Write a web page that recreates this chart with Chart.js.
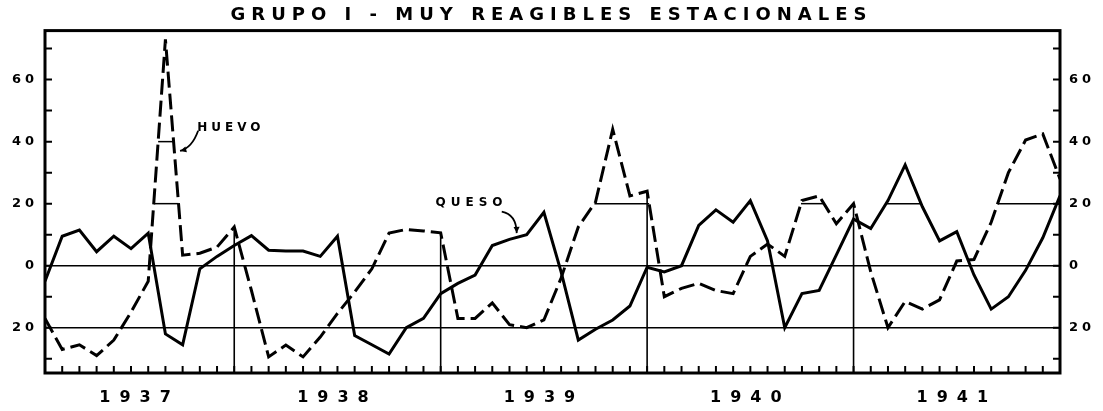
<!DOCTYPE html>
<html><head><meta charset="utf-8">
<script src="https://cdn.jsdelivr.net/npm/chart.js@4.4.1/dist/chart.umd.min.js"></script>
<style>html,body{margin:0;padding:0;background:#fff;}#wrap{width:1103px;height:411px;position:relative;}</style>
</head><body><div id="wrap"><canvas id="c"></canvas></div>
<script>
// ---- data ----
const years = ['1937','1938','1939','1940','1941'];
const monthNames = ['Ene','Feb','Mar','Abr','May','Jun','Jul','Ago','Sep','Oct','Nov','Dic'];
const months = years.flatMap(y => monthNames.map(m => m + ' ' + y));
const queso = [
  -5, 9.5, 11.5, 4.5, 9.5, 5.5, 10.5, -22, -25.5, -1, 3, 6.5,
  9.7, 5, 4.7, 4.7, 3, 9.5, -22.5, -25.5, -28.5, -20, -17, -9,
  -5.7, -3, 6.5, 8.5, 10, 17.2, -2, -24, -20.5, -17.5, -13, -0.5,
  -2, 0, 13, 18, 14, 21, 8, -20, -9, -8, 3.5, 15,
  12, 21, 32.5, 19, 8, 11, -3, -14, -10, -1.5, 9, 22.5
];
const huevo = [
  -17, -27, -25.5, -29, -24, -15, -5, 73, 3.4, 4, 6, 12.5,
  -8, -29.4, -25.6, -29.4, -23, -15.4, -8.5, -1, 10.5, 11.7, 11.2, 10.6,
  -17, -17, -12, -19, -20, -17.5, -4, 12.5, 20.5, 44, 22.5, 24,
  -10, -7.3, -5.7, -8, -9, 3, 7, 3, 21, 22.5, 13.5, 20,
  -2, -20, -11.5, -14, -11, 1.5, 2, 14, 30, 40.5, 42.5, 28
];
const yTickValues = [-20, 0, 20, 40, 60];
const yMinorTicks = [-30, -20, -10, 0, 10, 20, 30, 40, 50, 60, 70];
// grid fragments at a level are drawn inside humps whose peak reaches at least the given value
const fragLevels = [{level: 20, minPeak: 20}, {level: 40, minPeak: 60}];
const yearEnds = years.slice(0, -1).map((_, k) => 12 * k + 11);
const yearCenters = years.map((_, k) => (Math.max(0, 12 * k - 1) + 12 * k + 11) / 2);

const FONT = '"DejaVu Sans", sans-serif';

class SpacedLinear extends Chart.LinearScale {
  static id = 'spacedLinear';
  drawLabels(area) {
    const ctx = this.ctx;
    ctx.save();
    ctx.letterSpacing = (this.options.letterSpacing || 0) + 'px';
    super.drawLabels(area);
    ctx.restore();
  }
}
Chart.register(SpacedLinear);

function arrowHead(ctx, x0, y0, x1, y1, size) {
  const ang = Math.atan2(y1 - y0, x1 - x0);
  ctx.beginPath();
  ctx.moveTo(x1, y1);
  ctx.lineTo(x1 - size * Math.cos(ang - 0.45), y1 - size * Math.sin(ang - 0.45));
  ctx.lineTo(x1 - size * Math.cos(ang + 0.45), y1 - size * Math.sin(ang + 0.45));
  ctx.closePath();
  ctx.fill();
}

const decor = {
  id: 'decor',
  beforeDraw(chart) { chart.ctx.letterSpacing = '6px'; },
  beforeDatasetsDraw(chart) {
    const {ctx, chartArea: a, scales: {x, y}} = chart;
    ctx.save();
    ctx.letterSpacing = '0px';
    ctx.strokeStyle = '#000';
    ctx.lineWidth = 1.6;
    yearEnds.forEach(i => {
      const px = x.getPixelForValue(i);
      ctx.beginPath(); ctx.moveTo(px, a.bottom); ctx.lineTo(px, y.getPixelForValue(huevo[i])); ctx.stroke();
    });
    ctx.lineWidth = 1.5;
    [queso, huevo].forEach(series => fragLevels.forEach(({level, minPeak}) => {
      // find humps above level
      let i = 0;
      const n = series.length;
      while (i < n - 1) {
        if (series[i] <= level && series[i + 1] <= level) { i++; continue; }
        // hump start
        let start = i;
        let s0 = series[i] < level ? i + (level - series[i]) / (series[i + 1] - series[i]) : i;
        let j = i + 1, peak = Math.max(series[i], series[i + 1]);
        while (j < n - 1 && series[j] > level) { peak = Math.max(peak, series[j + 1]); j++; }
        let s1;
        if (series[j] < level) s1 = (j - 1) + (level - series[j - 1]) / (series[j] - series[j - 1]);
        else s1 = j;
        if (peak >= minPeak) {
          const py = y.getPixelForValue(level);
          ctx.beginPath(); ctx.moveTo(x.getPixelForValue(s0), py); ctx.lineTo(x.getPixelForValue(s1), py); ctx.stroke();
        }
        i = Math.max(j, start + 1);
      }
    }));
    ctx.restore();
  },
  afterDatasetsDraw(chart) {
    const {ctx, chartArea: a, scales: {x, y}} = chart;
    const P = (i, v) => [x.getPixelForValue(i), y.getPixelForValue(v)];
    ctx.save();
    ctx.letterSpacing = '0px';
    ctx.strokeStyle = '#000'; ctx.fillStyle = '#000';
    // frame
    ctx.lineWidth = 3;
    ctx.strokeRect(a.left, a.top, a.right - a.left, a.bottom - a.top);
    // inward ticks
    ctx.lineWidth = 2;
    yMinorTicks.forEach(v => {
      const py = y.getPixelForValue(v);
      ctx.beginPath();
      ctx.moveTo(a.left, py); ctx.lineTo(a.left + 7, py);
      ctx.moveTo(a.right, py); ctx.lineTo(a.right - 7, py);
      ctx.stroke();
    });
    months.forEach((m, i) => {
      if (i === 0 || i === months.length - 1) return;
      const px = x.getPixelForValue(i);
      ctx.beginPath(); ctx.moveTo(px, a.bottom); ctx.lineTo(px, a.bottom - 7); ctx.stroke();
    });
    // annotations
    ctx.textBaseline = 'middle'; ctx.textAlign = 'left';
    ctx.font = 'bold 12px ' + FONT; ctx.letterSpacing = '4px';
    let p = P(8.85, 44.3);
    ctx.fillText('HUEVO', p[0], p[1]);
    ctx.font = 'bold 12px ' + FONT; ctx.letterSpacing = '5px';
    p = P(22.7, 20.3);
    ctx.fillText('QUESO', p[0], p[1]);
    ctx.letterSpacing = '0px';
    ctx.lineWidth = 1.8;
    // HUEVO arrow
    let s = P(8.9, 43.5), c = P(8.55, 38), e = P(7.85, 37);
    ctx.beginPath(); ctx.moveTo(s[0], s[1]); ctx.quadraticCurveTo(c[0], c[1], e[0], e[1]); ctx.stroke();
    arrowHead(ctx, c[0], c[1], e[0], e[1], 7);
    // QUESO arrow
    s = P(26.55, 17.4); c = P(27.4, 16.5); e = P(27.42, 10.5);
    ctx.beginPath(); ctx.moveTo(s[0], s[1]); ctx.quadraticCurveTo(c[0], c[1], e[0], e[1]); ctx.stroke();
    arrowHead(ctx, c[0], c[1], e[0], e[1], 7);
    ctx.restore();
  },
  afterDraw(chart) { chart.ctx.letterSpacing = '0px'; }
};

const yCommon = {
  type: 'spacedLinear', min: -34.6, max: 75.8,
  letterSpacing: 4,
  afterBuildTicks: s => { s.ticks = yTickValues.map(v => ({value: v})); },
  border: {display: false},
  ticks: {color: '#000', font: {family: FONT, size: 13, weight: 'bold'}, callback: v => String(Math.abs(v))}
};

new Chart(document.getElementById('c'), {
  type: 'line',
  data: {
    datasets: [
      {label: 'QUESO', data: queso.map((v, i) => ({x: i, y: v})), borderColor: '#000', borderWidth: 3,
       pointRadius: 0, tension: 0, borderJoinStyle: 'miter', fill: false},
      {label: 'HUEVO', data: huevo.map((v, i) => ({x: i, y: v})), borderColor: '#000', borderWidth: 3,
       borderDash: [16, 6], pointRadius: 0, tension: 0, borderJoinStyle: 'miter', fill: false}
    ]
  },
  options: {
    responsive: true, maintainAspectRatio: false, animation: false,
    layout: {padding: 0},
    plugins: {
      legend: {display: false}, tooltip: {enabled: false},
      title: {display: true, text: 'GRUPO I - MUY REAGIBLES ESTACIONALES', color: '#000',
        font: {family: FONT, size: 18, weight: 'bold', lineHeight: 1.2}, padding: {top: 5, bottom: 4}}
    },
    scales: {
      x: {
        type: 'spacedLinear', min: 0, max: months.length - 1, letterSpacing: 9,
        afterBuildTicks: s => { s.ticks = yearCenters.map(v => ({value: v})); },
        afterFit: s => { s.height = 38; },
        grid: {display: false}, border: {display: false},
        ticks: {color: '#000', padding: 7, autoSkip: false, maxRotation: 0,
          font: {family: FONT, size: 16, weight: 'bold'},
          callback: (v) => years[yearCenters.indexOf(v)]}
      },
      y: Object.assign({}, yCommon, {
        position: 'left',
        afterFit: s => { s.width = 45; },
        grid: {drawTicks: false, lineWidth: 1.6,
          color: ctx => (ctx.tick && (ctx.tick.value === 0 || ctx.tick.value === -20)) ? '#000' : 'rgba(0,0,0,0)'},
        ticks: Object.assign({}, yCommon.ticks, {padding: 7})
      }),
      y2: Object.assign({}, yCommon, {
        position: 'right',
        afterFit: s => { s.width = 43; },
        grid: {display: false, drawTicks: false},
        ticks: Object.assign({}, yCommon.ticks, {padding: 9})
      })
    }
  },
  plugins: [decor]
});
</script>
</body></html>
